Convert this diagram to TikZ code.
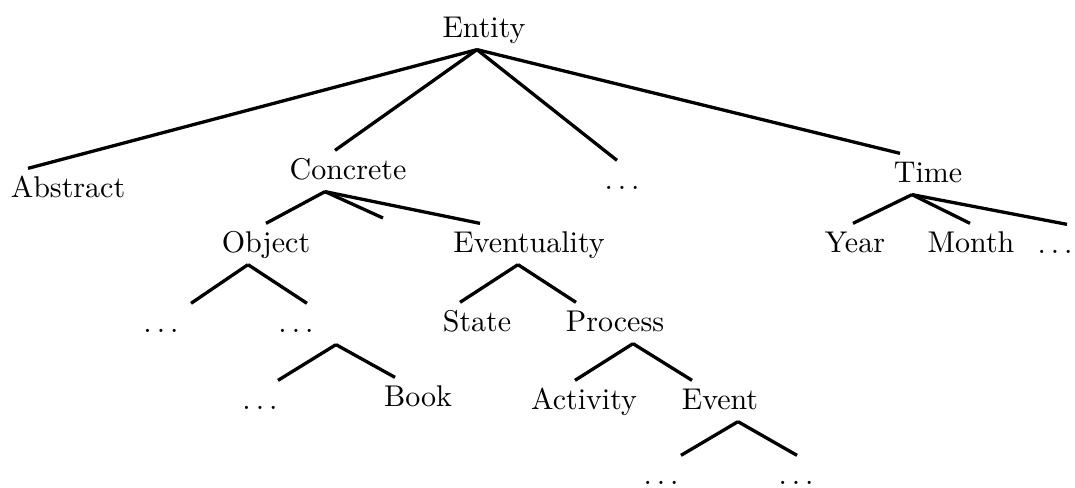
\documentclass[tikz,border=0pt]{standalone}
\usepackage{tikz}

\begin{document}
\begin{tikzpicture}[x=0.3333pt, y=-0.3333pt, line width=1.1pt,
    word/.style={anchor=base, inner xsep=0pt, inner ysep=2.33pt, text height=7pt, text depth=1pt}]

\useasboundingbox (0,0) rectangle (1075,488);

% Top level
\node[word] (entity) at (484,38) {Entity};
\node[word] (abstract) at (68,198) {Abstract};
\node[word] (concrete) at (348,180) {Concrete};
\node[word] (middots) at (622,190) {$\ldots$};
\node[word] (time) at (928,183) {Time};

% Second level
\node[word] (object) at (266,253) {Object};
\node[word] (eventuality) at (529,253) {Eventuality};
\node[word] (year) at (855,253) {Year};
\node[word] (month) at (971,253) {Month};
\node[word] (timedots) at (1055,254) {$\ldots$};
\coordinate (concretegap) at (383,218);

% Third level
\node[word] (objdotsl) at (161,333) {$\ldots$};
\node[word] (objdotsr) at (296,333) {$\ldots$};
\node[word] (state) at (477,332) {State};
\node[word] (process) at (615,332) {Process};

% Fourth level
\node[word] (subdots) at (260,410) {$\ldots$};
\node[word] (book) at (418,407) {Book};
\node[word] (activity) at (584,410) {Activity};
\node[word] (event) at (720,410) {Event};
\node[word] (evdotsl) at (661,485) {$\ldots$};
\node[word] (evdotsr) at (796,485) {$\ldots$};

% Branches, parent/shift/child/shift
\foreach \p/\ps/\c/\cs in {entity/-7/abstract/-40, entity/-7/concrete/-13,
    entity/-7/middots/-5, entity/-7/time/-28,
    concrete/-23/object/0, concrete/-23/eventuality/-49,
    time/-16/year/-2, time/-16/month/-1, time/-16/timedots/12,
    object/-18/objdotsl/30, object/-18/objdotsr/11,
    objdotsr/40/subdots/18, objdotsr/40/book/-23,
    eventuality/-11/state/-17, eventuality/-11/process/-39,
    process/18/activity/-9, process/18/event/-28,
    event/18/evdotsl/20, event/18/evdotsr/1}
{
    \draw ([shift={(\ps,0)}]\p.south) -- ([shift={(\cs,0)}]\c.north);
}
\draw ([shift={(-23,0)}]concrete.south) -- (concretegap);

\end{tikzpicture}
\end{document}
